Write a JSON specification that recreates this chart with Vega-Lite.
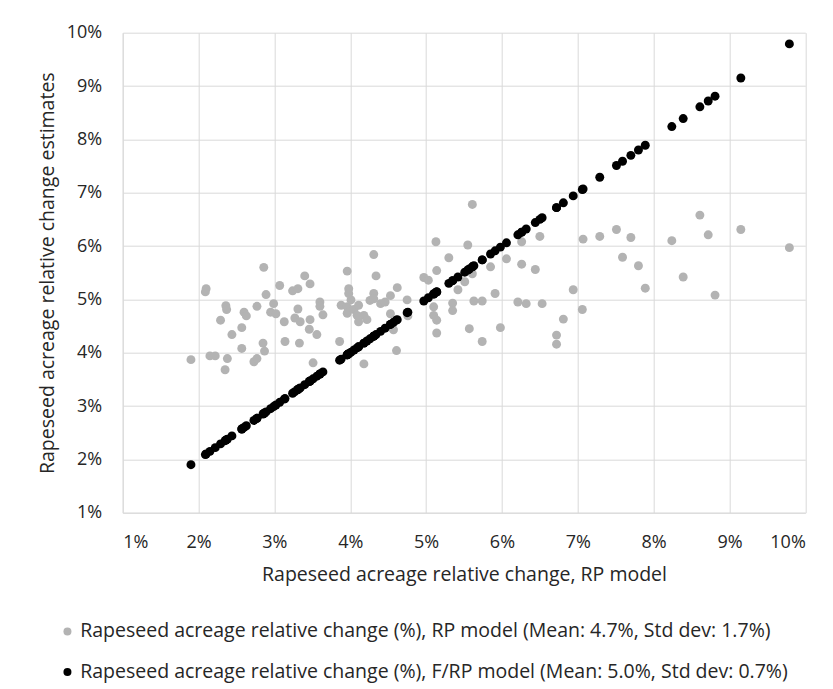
{
  "$schema": "https://vega.github.io/schema/vega-lite/v6.json",
  "width": 682.6,
  "height": 480,
  "autosize": {"type": "none"},
  "padding": {"left": 122.7, "top": 32.7, "right": 27.7, "bottom": 176.3},
  "background": "white",
  "config": {"view": {"stroke": null}, "font": "Open Sans"},
  "datasets": {
    "rp": [
      {"x":1.90,"y":3.87},{"x":2.09,"y":5.14},{"x":2.10,"y":5.20},{"x":2.15,"y":3.94},{"x":2.22,"y":3.94},
      {"x":2.29,"y":4.61},{"x":2.35,"y":3.68},{"x":2.36,"y":4.88},{"x":2.37,"y":4.81},{"x":2.38,"y":3.89},
      {"x":2.44,"y":4.34},{"x":2.57,"y":4.47},{"x":2.57,"y":4.08},{"x":2.60,"y":4.76},{"x":2.63,"y":4.69},
      {"x":2.73,"y":3.83},{"x":2.77,"y":3.89},{"x":2.77,"y":4.87},{"x":2.85,"y":4.18},{"x":2.86,"y":5.60},
      {"x":2.87,"y":4.03},{"x":2.89,"y":5.09},{"x":2.95,"y":4.76},{"x":2.99,"y":4.92},{"x":3.02,"y":4.73},
      {"x":3.07,"y":5.26},{"x":3.13,"y":4.58},{"x":3.14,"y":4.21},{"x":3.24,"y":5.16},{"x":3.27,"y":4.65},
      {"x":3.31,"y":5.20},{"x":3.31,"y":4.82},{"x":3.33,"y":4.18},{"x":3.34,"y":4.58},{"x":3.40,"y":5.44},
      {"x":3.46,"y":4.44},{"x":3.47,"y":5.29},{"x":3.47,"y":4.62},{"x":3.51,"y":3.81},{"x":3.56,"y":4.34},
      {"x":3.60,"y":4.95},{"x":3.60,"y":4.87},{"x":3.64,"y":4.71},{"x":3.86,"y":4.21},{"x":3.88,"y":4.89},
      {"x":3.96,"y":5.53},{"x":3.96,"y":4.86},{"x":3.96,"y":4.74},{"x":3.98,"y":5.20},{"x":3.98,"y":5.11},
      {"x":4.01,"y":4.99},{"x":4.05,"y":4.81},{"x":4.11,"y":4.89},{"x":4.09,"y":4.70},{"x":4.18,"y":4.70},
      {"x":4.11,"y":4.58},{"x":4.22,"y":4.62},{"x":4.18,"y":3.79},{"x":4.26,"y":4.98},{"x":4.31,"y":5.84},
      {"x":4.31,"y":5.11},{"x":4.31,"y":5.01},{"x":4.34,"y":5.44},{"x":4.40,"y":4.92},{"x":4.46,"y":4.95},
      {"x":4.53,"y":5.07},{"x":4.53,"y":4.73},{"x":4.57,"y":4.43},{"x":4.61,"y":4.04},{"x":4.62,"y":5.22},
      {"x":4.75,"y":4.99},{"x":4.76,"y":4.69},{"x":4.97,"y":5.41},{"x":5.03,"y":5.36},{"x":5.10,"y":4.86},
      {"x":5.10,"y":4.70},{"x":5.13,"y":6.08},{"x":5.14,"y":5.54},{"x":5.14,"y":4.61},{"x":5.14,"y":4.37},
      {"x":5.30,"y":5.78},{"x":5.35,"y":4.93},{"x":5.35,"y":4.79},{"x":5.42,"y":5.18},{"x":5.51,"y":5.33},
      {"x":5.55,"y":6.02},{"x":5.57,"y":4.45},{"x":5.61,"y":6.78},{"x":5.61,"y":5.48},{"x":5.63,"y":4.97},
      {"x":5.74,"y":4.97},{"x":5.74,"y":4.21},{"x":5.85,"y":5.61},{"x":5.91,"y":5.11},{"x":5.98,"y":4.47},
      {"x":6.06,"y":5.76},{"x":6.21,"y":4.95},{"x":6.26,"y":6.08},{"x":6.26,"y":5.66},{"x":6.32,"y":4.92},
      {"x":6.44,"y":5.56},{"x":6.50,"y":6.18},{"x":6.53,"y":4.92},{"x":6.72,"y":4.33},{"x":6.72,"y":4.16},
      {"x":6.81,"y":4.63},{"x":6.94,"y":5.18},{"x":7.06,"y":4.81},{"x":7.07,"y":6.13},{"x":7.29,"y":6.18},
      {"x":7.51,"y":6.31},{"x":7.59,"y":5.79},{"x":7.70,"y":6.16},{"x":7.80,"y":5.63},{"x":7.89,"y":5.21},
      {"x":8.24,"y":6.10},{"x":8.39,"y":5.42},{"x":8.61,"y":6.58},{"x":8.72,"y":6.21},{"x":8.81,"y":5.08},
      {"x":9.15,"y":6.31},{"x":9.79,"y":5.97}
    ],
    "frp": [
      {"x":1.90,"y":1.90},{"x":2.09,"y":2.09},{"x":2.10,"y":2.10},{"x":2.15,"y":2.15},{"x":2.22,"y":2.22},
      {"x":2.29,"y":2.29},{"x":2.35,"y":2.35},{"x":2.36,"y":2.36},{"x":2.37,"y":2.37},{"x":2.38,"y":2.38},
      {"x":2.44,"y":2.44},{"x":2.57,"y":2.57},{"x":2.57,"y":2.57},{"x":2.60,"y":2.60},{"x":2.63,"y":2.63},
      {"x":2.73,"y":2.73},{"x":2.77,"y":2.77},{"x":2.77,"y":2.77},{"x":2.85,"y":2.85},{"x":2.86,"y":2.86},
      {"x":2.87,"y":2.87},{"x":2.89,"y":2.89},{"x":2.95,"y":2.95},{"x":2.99,"y":2.99},{"x":3.02,"y":3.02},
      {"x":3.07,"y":3.07},{"x":3.13,"y":3.13},{"x":3.14,"y":3.14},{"x":3.24,"y":3.24},{"x":3.27,"y":3.27},
      {"x":3.31,"y":3.31},{"x":3.31,"y":3.31},{"x":3.33,"y":3.33},{"x":3.34,"y":3.34},{"x":3.40,"y":3.40},
      {"x":3.46,"y":3.46},{"x":3.47,"y":3.47},{"x":3.47,"y":3.47},{"x":3.51,"y":3.51},{"x":3.56,"y":3.56},
      {"x":3.60,"y":3.60},{"x":3.60,"y":3.60},{"x":3.64,"y":3.64},{"x":3.86,"y":3.86},{"x":3.88,"y":3.88},
      {"x":3.96,"y":3.96},{"x":3.96,"y":3.96},{"x":3.96,"y":3.96},{"x":3.98,"y":3.98},{"x":3.98,"y":3.98},
      {"x":4.01,"y":4.01},{"x":4.05,"y":4.05},{"x":4.11,"y":4.11},{"x":4.09,"y":4.09},{"x":4.18,"y":4.18},
      {"x":4.11,"y":4.11},{"x":4.22,"y":4.22},{"x":4.18,"y":4.18},{"x":4.26,"y":4.26},{"x":4.31,"y":4.31},
      {"x":4.31,"y":4.31},{"x":4.31,"y":4.31},{"x":4.34,"y":4.34},{"x":4.40,"y":4.40},{"x":4.46,"y":4.46},
      {"x":4.53,"y":4.53},{"x":4.53,"y":4.53},{"x":4.57,"y":4.57},{"x":4.61,"y":4.61},{"x":4.62,"y":4.62},
      {"x":4.75,"y":4.75},{"x":4.76,"y":4.76},{"x":4.97,"y":4.97},{"x":5.03,"y":5.03},{"x":5.10,"y":5.10},
      {"x":5.10,"y":5.10},{"x":5.13,"y":5.13},{"x":5.14,"y":5.14},{"x":5.14,"y":5.14},{"x":5.14,"y":5.14},
      {"x":5.30,"y":5.30},{"x":5.35,"y":5.35},{"x":5.35,"y":5.35},{"x":5.42,"y":5.42},{"x":5.51,"y":5.51},
      {"x":5.55,"y":5.55},{"x":5.57,"y":5.57},{"x":5.61,"y":5.61},{"x":5.61,"y":5.61},{"x":5.63,"y":5.63},
      {"x":5.74,"y":5.74},{"x":5.74,"y":5.74},{"x":5.85,"y":5.85},{"x":5.91,"y":5.91},{"x":5.98,"y":5.98},
      {"x":6.06,"y":6.06},{"x":6.21,"y":6.21},{"x":6.26,"y":6.26},{"x":6.26,"y":6.26},{"x":6.32,"y":6.32},
      {"x":6.44,"y":6.44},{"x":6.50,"y":6.50},{"x":6.53,"y":6.53},{"x":6.72,"y":6.72},{"x":6.72,"y":6.72},
      {"x":6.81,"y":6.81},{"x":6.94,"y":6.94},{"x":7.06,"y":7.06},{"x":7.07,"y":7.07},{"x":7.29,"y":7.29},
      {"x":7.51,"y":7.51},{"x":7.59,"y":7.59},{"x":7.70,"y":7.70},{"x":7.80,"y":7.80},{"x":7.89,"y":7.89},
      {"x":8.24,"y":8.24},{"x":8.39,"y":8.39},{"x":8.61,"y":8.61},{"x":8.72,"y":8.72},{"x":8.81,"y":8.81},
      {"x":9.15,"y":9.15},{"x":9.79,"y":9.79}
    ]
  },
  "layer": [
    {
      "data": {"name": "rp"},
      "mark": {"type": "point", "filled": true, "opacity": 1, "size": 80},
      "encoding": {
        "x": {"field": "x", "type": "quantitative"},
        "y": {"field": "y", "type": "quantitative"},
        "color": {"datum": "Rapeseed acreage relative change (%), RP model (Mean: 4.7%, Std dev: 1.7%)"}
      }
    },
    {
      "data": {"name": "frp"},
      "mark": {"type": "point", "filled": true, "opacity": 1, "size": 80},
      "encoding": {
        "x": {"field": "x", "type": "quantitative"},
        "y": {"field": "y", "type": "quantitative"},
        "color": {"datum": "Rapeseed acreage relative change (%), F/RP model (Mean: 5.0%, Std dev: 0.7%)"}
      }
    }
  ],
  "encoding": {
    "x": {
      "field": "x", "type": "quantitative",
      "scale": {"domain": [1, 10], "nice": false, "zero": false},
      "axis": {
        "values": [1, 2, 3, 4, 5, 6, 7, 8, 9, 10],
        "labelExpr": "datum.value + '%'",
        "title": "Rapeseed acreage relative change, RP model",
        "grid": true, "gridColor": "#d9d9d9", "gridWidth": 1,
        "domainColor": "#d9d9d9", "ticks": false,
        "labelPadding": 21, "labelFontSize": 18, "labelColor": "#262626",
        "titleFontSize": 19.5, "titleFontWeight": "normal", "titleColor": "#262626", "titlePadding": 14
      }
    },
    "y": {
      "field": "y", "type": "quantitative",
      "scale": {"domain": [1, 10], "nice": false, "zero": false},
      "axis": {
        "values": [1, 2, 3, 4, 5, 6, 7, 8, 9, 10],
        "labelExpr": "datum.value + '%'",
        "title": "Rapeseed acreage relative change estimates",
        "grid": true, "gridColor": "#d9d9d9", "gridWidth": 1,
        "domainColor": "#d9d9d9", "ticks": false,
        "labelPadding": 21, "labelFontSize": 18, "labelColor": "#262626",
        "titleFontSize": 19.5, "titleFontWeight": "normal", "titleColor": "#262626", "titlePadding": 9
      }
    },
    "color": {
      "type": "nominal",
      "scale": {
        "domain": ["Rapeseed acreage relative change (%), RP model (Mean: 4.7%, Std dev: 1.7%)", "Rapeseed acreage relative change (%), F/RP model (Mean: 5.0%, Std dev: 0.7%)"],
        "range": ["#b3b3b3", "#000000"]
      },
      "legend": {
        "orient": "none", "legendX": -65, "legendY": 589, "direction": "vertical",
        "title": null, "labelFontSize": 19.5, "labelColor": "#262626", "labelLimit": 900,
        "symbolType": "circle", "symbolSize": 64, "symbolStrokeWidth": 0, "rowPadding": 19.5, "labelOffset": 3
      }
    }
  }
}
